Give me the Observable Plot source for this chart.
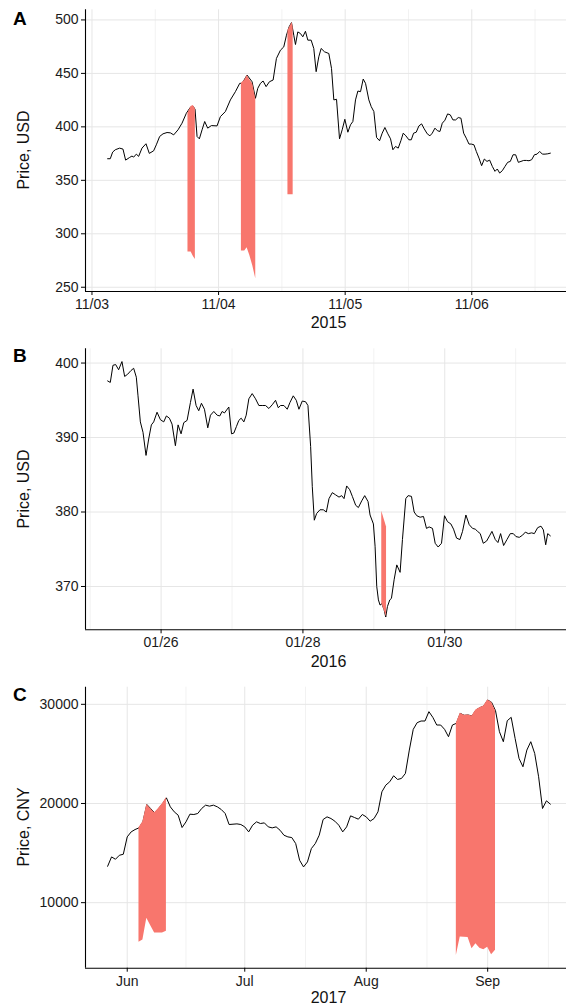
<!DOCTYPE html>
<html><head><meta charset="utf-8">
<script src="https://cdn.jsdelivr.net/npm/d3@7"></script>
<script src="https://cdn.jsdelivr.net/npm/@observablehq/plot@0.6"></script>
<style>
html,body{margin:0;padding:0;background:#fff;overflow:hidden;}
#chart{position:relative;width:566px;height:1006px;overflow:hidden;background:#fff;}
#chart svg{max-width:none !important;}
#overlay{position:absolute;left:0;top:0;pointer-events:none;}
</style>
</head><body>
<div id="chart">
<svg id="overlay" width="566" height="1006" font-family="'Liberation Sans', Arial, sans-serif">
  <text x="13" y="25" font-size="19" font-weight="bold">A</text>
  <text x="13" y="361.7" font-size="19" font-weight="bold">B</text>
  <text x="13" y="700.5" font-size="19" font-weight="bold">C</text>
  <text transform="translate(29,150) rotate(-90)" text-anchor="middle" font-size="16" fill="#111">Price, USD</text>
  <text transform="translate(29,489) rotate(-90)" text-anchor="middle" font-size="16" fill="#111">Price, USD</text>
  <text transform="translate(29,827) rotate(-90)" text-anchor="middle" font-size="16" fill="#111">Price, CNY</text>
  <text x="328.5" y="328.3" text-anchor="middle" font-size="16" fill="#111">2015</text>
  <text x="328.5" y="666.7" text-anchor="middle" font-size="16" fill="#111">2016</text>
  <text x="328.5" y="1003.3" text-anchor="middle" font-size="16" fill="#111">2017</text>
</svg>
</div>
<script>
// ---------- Panel A: 2015 (hours since 2015-11-03 00:00 UTC) ----------
const startA = Date.UTC(2015, 10, 3);
const timesA = [
2.97,3.47,3.92,4.42,5.24,5.88,6.38,7.14,7.58,7.90,
8.41,8.85,9.48,10.24,10.87,11.69,12.20,12.83,13.47,14.23,
14.86,15.49,16.31,17.07,17.89,18.65,19.16,19.54,19.92,20.36,
20.87,21.37,21.94,22.64,23.71,24.35,25.29,26.24,27.19,28.01,
28.46,29.40,30.35,30.99,31.43,31.94,32.44,33.01,33.64,34.34,
34.97,35.73,36.36,36.87,37.37,37.82,38.26,38.58,39.02,39.52,
39.97,40.47,40.92,41.55,42.05,42.50,43.00,43.45,44.08,44.90,
45.41,45.85,46.36,46.93,47.43,47.94,48.51,49.01,49.46,49.96,
50.41,50.91,51.42,51.86,52.49,52.94,53.44,53.95,54.52,55.02,
55.53,56.03,56.60,57.05,57.55,58.06,58.56,59.01,59.51,60.08,
60.53,60.97,61.47,61.98,62.49,62.99,63.56,64.07,64.51,65.02,
65.52,65.97,66.41,66.91,67.42,67.93,68.43,68.94,69.44,69.95,
70.46,70.96,71.47,71.91,72.42,72.86,73.37,73.87,74.38,74.88,
75.39,75.90,76.40,76.84,77.29,77.79,78.30,78.80,79.31,79.82,
80.32,80.83,81.33,81.84,82.35,82.85,83.36,83.87,84.37,84.88,
85.38,85.89,86.40,86.90];
const priceA = [
370.2,370.2,376.4,378.6,380.1,379.2,368.9,371.4,372.7,371.7,
374.5,372.4,380.1,384.2,375.2,377.6,383.2,391.0,393.5,394.7,
394.4,392.5,397.2,403.4,412.7,418.3,419.3,416.5,391.0,388.8,
397.2,405.0,398.8,401.2,400.9,409.6,414.3,425.2,432.9,440.7,
440.7,448.4,442.2,426.7,436.0,440.7,442.9,437.6,442.2,443.8,
464.0,471.7,474.8,485.7,493.5,497.5,485.7,477.0,488.8,487.3,
484.2,489.4,481.1,481.1,473.3,451.6,465.5,473.3,470.2,468.6,
454.7,425.2,425.8,388.8,397.2,407.1,395.0,401.9,405.0,425.2,
433.5,432.9,444.7,440.7,425.2,418.9,414.3,390.1,387.0,394.1,
399.4,394.1,388.8,378.6,381.7,380.1,387.0,394.1,391.6,387.9,
387.9,394.1,395.0,400.9,402.8,398.1,393.5,391.6,394.1,398.8,
396.3,395.7,403.4,406.2,412.1,411.2,406.5,406.5,408.7,408.1,
394.1,389.4,383.9,383.9,383.2,377.0,370.8,363.7,369.9,367.7,
368.9,363.0,358.4,360.6,356.8,359.0,363.0,366.8,367.7,373.9,
373.9,366.8,367.7,368.6,368.6,368.3,369.3,373.9,374.5,377.0,
374.5,374.5,374.8,375.4];
const anomGroupA = [1,1,1,1, 2,2,2,2,2,2, 3,3,3];
const anomTimesA = [18.2,18.8,19.2,19.6, 28.33,28.96,29.41,29.91,30.48,31.05, 37.15,37.95,38.14];
const anomTopA   = [413,419,420,417, 440.9,443.5,448,444,440,426.4, 490,497.5,493];
const anomLowA   = [283,283,279,276, 284,284,287,280,270,258, 336.6,336.6,336.6];
const yTicksA = [250,300,350,400,450,500];
const xTickDaysA = ["2015-11-03","2015-11-04","2015-11-05","2015-11-06"];

// ---------- Panel B: 2016 (hours since 2016-01-25 00:00 UTC) ----------
const startB = Date.UTC(2016, 0, 25);
const timesB = [
5.91,6.81,7.71,8.62,9.63,10.76,11.67,12.69,13.82,14.72,
15.62,16.19,16.98,17.88,18.90,19.80,20.71,21.50,22.63,23.76,
24.89,25.79,26.81,27.71,28.84,29.75,30.76,31.67,32.80,33.93,
34.83,35.85,36.75,37.66,38.67,39.80,40.71,41.84,42.97,43.87,
44.66,45.45,46.92,47.83,48.62,49.52,50.31,51.10,52.01,52.80,
53.70,54.83,55.96,57.09,58.22,59.35,60.48,61.61,62.74,63.65,
64.44,65.57,66.70,67.60,68.73,69.75,70.65,71.78,72.91,73.70,
74.61,75.17,75.85,76.64,77.77,78.90,79.92,80.82,81.95,83.08,
84.21,85.12,85.91,86.81,87.83,88.73,89.86,90.77,91.90,92.91,
94.04,94.72,95.85,96.42,96.98,97.55,98.11,98.68,99.47,100.03,
100.60,101.39,101.95,102.86,103.76,104.89,105.68,106.81,107.60,108.73,
109.64,110.54,111.67,112.80,113.82,114.72,115.85,116.76,117.77,118.90,
119.92,120.94,122.07,122.97,123.99,125.12,126.02,127.15,128.28,129.41,
130.32,131.11,132.01,133.03,134.16,135.29,135.97,137.10,138.00,138.90,
139.92,141.05,142.18,143.20,144.10,145.23,146.36,147.27,148.28,149.41,
150.32,151.45,152.57,153.37,154.16,154.84,155.74];
const priceB = [
397.6,397.4,399.7,399.8,399.1,400.2,398.2,398.5,399.0,399.3,
398.1,395.6,392.1,390.7,387.6,389.8,391.7,392.1,393.4,392.4,
392.1,392.9,392.6,391.8,388.9,391.7,390.5,392.0,392.3,394.7,
396.5,394.3,393.6,394.6,393.8,391.3,393.0,393.5,393.0,392.9,
393.5,393.3,394.1,390.5,390.6,391.5,392.3,392.6,392.1,393.0,
395.2,395.9,395.2,394.3,394.3,394.3,393.9,394.4,395.0,394.0,
394.3,394.3,393.8,394.7,395.6,395.0,393.8,394.9,394.8,394.3,
388.8,383.4,378.9,379.8,380.3,380.3,380.0,381.8,382.6,382.3,
382.0,382.2,381.8,383.5,383.0,382.1,380.9,380.6,381.5,382.2,
381.4,379.6,378.4,375.4,370.0,368.2,367.5,367.7,366.9,365.9,
367.3,368.2,368.4,370.9,372.9,371.9,376.3,381.8,382.2,382.1,
380.0,379.5,379.3,379.4,377.8,378.0,377.8,375.8,375.3,375.8,
379.5,378.7,378.4,377.7,376.5,376.3,377.4,379.6,378.3,377.8,
377.7,377.4,377.1,375.8,376.1,376.9,377.4,376.3,375.9,377.1,
375.5,376.3,377.1,377.1,376.7,376.6,376.9,377.3,377.1,377.2,
377.1,377.9,378.1,377.6,375.6,377.1,376.8];
const anomGroupB = [1,1];
const anomTimesB = [98.68,100.3];
const anomLowB   = [367.7,365.9];
const anomTopB   = [380.1,378.0];
const yTicksB = [370,380,390,400];
const xTickDaysB = ["2016-01-26","2016-01-28","2016-01-30"];

// ---------- Panel C: 2017 (daily, from 2017-05-27) ----------
const startC = Date.UTC(2017, 4, 27);
const priceC = [
13670,14613,14377,14781,14882,16633,17138,17374,17542,18148,
19899,19480,19057,19495,19966,20570,19663,19158,18822,17576,
18148,18923,18889,18990,19495,19832,19731,19832,19663,19394,
18990,17879,17912,17946,17879,17643,17138,17811,18148,17980,
18047,17643,17542,17643,17306,16801,16633,16566,15960,14276,
13603,14108,15455,15960,16801,18384,18653,18485,18215,17811,
17138,17643,18754,18586,18418,18889,18653,18215,18485,19158,
21178,21852,22189,22795,22424,22525,23030,25387,27475,28148,
28317,28317,29259,28687,27912,27912,27475,26734,27912,28081,
29091,28889,28923,28822,29428,29663,29832,30438,30202,29360,
27239,26229,28350,28687,26566,24546,23704,25387,26229,25050,
22694,19495,20269,19933];
const anomGroupC = [1,1,1,1,1,1,1,1, 2,2,2,2,2,2,2,2,2,2,2];
const anomDatesC = ["2017-06-04","2017-06-05","2017-06-06","2017-06-07","2017-06-08","2017-06-09","2017-06-10","2017-06-11",
  "2017-08-24","2017-08-25","2017-08-26","2017-08-27","2017-08-28","2017-08-29","2017-08-30","2017-08-31","2017-09-01","2017-09-02","2017-09-03"];
const anomLowC = [6000,6230,8420,7680,6930,6930,6930,7130, 4680,6550,6520,6500,5354,5860,5400,5250,5500,4750,5200];
const yTicksC = [10000,20000,30000];
const xTickMonthsC = ["2017-06-01","2017-07-01","2017-08-01","2017-09-01"];

// ---------- helpers ----------
const FONT = "'Liberation Sans', Arial, sans-serif";
const H = 3600e3, D = 86400e3;
const expand = ([a, b], f = 0.05) => { const s = (b - a) * f; return [a - s, b + s]; };
const toDate = s => new Date(s + "T00:00:00Z");
const mid = (a, b) => new Date((a.getTime() + b.getTime()) / 2);

const lineA = timesA.map((h, i) => ({t: new Date(startA + h * H), v: priceA[i]}));
const areaA = anomTimesA.map((h, i) => ({t: new Date(startA + h * H), lo: anomLowA[i], hi: anomTopA[i], g: anomGroupA[i]}));
const lineB = timesB.map((h, i) => ({t: new Date(startB + h * H), v: priceB[i]}));
const areaB = anomTimesB.map((h, i) => ({t: new Date(startB + h * H), lo: anomLowB[i], hi: anomTopB[i], g: anomGroupB[i]}));
const lineC = priceC.map((v, i) => ({t: new Date(startC + i * D), v}));
const priceCByDate = new Map(lineC.map(d => [d.t.getTime(), d.v]));
const areaC = anomDatesC.map((s, i) => { const t = toDate(s); return {t, lo: anomLowC[i], hi: priceCByDate.get(t.getTime()), g: anomGroupC[i]}; });

function minorTicks(major, domain) {
  const out = [];
  const step = major[1] - major[0];
  const all = [new Date(major[0] - step), ...major, new Date(+major[major.length - 1] + step)];
  for (let i = 0; i < all.length - 1; i++) {
    const m = mid(all[i], all[i + 1]);
    if (m >= domain[0] && m <= domain[1]) out.push(m);
  }
  return out;
}

function panel({top, height, mt, mb, line, area, yTicks, majorX, minorX, xFmt}) {
  const xDom = expand(d3.extent(line, d => +d.t)).map(v => new Date(v));
  const yDom = expand(d3.extent([...line.map(d => d.v), ...area.map(d => d.lo), ...area.map(d => d.hi)]));
  const minor = (minorX || minorTicks(majorX, xDom)).filter(m => m >= xDom[0] && m <= xDom[1]);
  const svg = Plot.plot({
    width: 572, height,
    marginLeft: 85, marginRight: 0, marginTop: mt, marginBottom: mb,
    x: {type: "utc", domain: xDom},
    y: {domain: yDom},
    style: {fontFamily: FONT, fontSize: "14px", color: "#1a1a1a", background: "transparent", overflow: "visible", maxWidth: "none"},
    marks: [
      Plot.gridX(minor, {stroke: "#f2f2f2", strokeOpacity: 1, strokeWidth: 1}),
      Plot.gridX(majorX, {stroke: "#e6e6e6", strokeOpacity: 1, strokeWidth: 1}),
      Plot.gridY(yTicks, {stroke: "#e6e6e6", strokeOpacity: 1, strokeWidth: 1}),
      Plot.lineY(line, {x: "t", y: "v", stroke: "#000", strokeWidth: 1}),
      Plot.areaY(area, {x: "t", y1: "lo", y2: "hi", z: "g", fill: "#F8766D", fillOpacity: 1}),
      Plot.ruleX([xDom[0]], {stroke: "#000", strokeWidth: 1.1}),
      Plot.ruleY([yDom[0]], {stroke: "#000", strokeWidth: 1.1}),
      Plot.axisX(majorX, {tickFormat: xFmt, tickSize: 4, tickPadding: 3.5, stroke: "#000", label: null, fill: "#1a1a1a", fontSize: 14}),
      Plot.axisY(yTicks, {tickFormat: d => String(d), tickSize: 4, tickPadding: 3, stroke: "#000", label: null, fill: "#1a1a1a", fontSize: 14})
    ]
  });
  svg.style.position = "absolute";
  svg.style.left = "0px";
  svg.style.top = top + "px";
  svg.style.maxWidth = "none";
  svg.setAttribute("width", 572);
  svg.setAttribute("height", height);
  document.getElementById("chart").insertBefore(svg, document.getElementById("overlay"));
}

panel({top: 0, height: 335, mt: 9.3, mb: 44, line: lineA, area: areaA, yTicks: yTicksA,
  majorX: xTickDaysA.map(toDate), xFmt: d3.utcFormat("%m/%d")});
panel({top: 335, height: 337, mt: 13.3, mb: 42.7, line: lineB, area: areaB, yTicks: yTicksB,
  majorX: xTickDaysB.map(toDate), xFmt: d3.utcFormat("%m/%d")});
const monthsC = xTickMonthsC.map(toDate);
panel({top: 672, height: 334, mt: 14.7, mb: 38.3, line: lineC, area: areaC, yTicks: yTicksC,
  majorX: monthsC, xFmt: d3.utcFormat("%b"),
  minorX: [mid(new Date(Date.UTC(2017,4,1)), monthsC[0]), mid(monthsC[0], monthsC[1]), mid(monthsC[1], monthsC[2]), mid(monthsC[2], monthsC[3]), new Date(+monthsC[3] + (monthsC[3] - monthsC[2]) / 2)]});
</script>
</body></html>
